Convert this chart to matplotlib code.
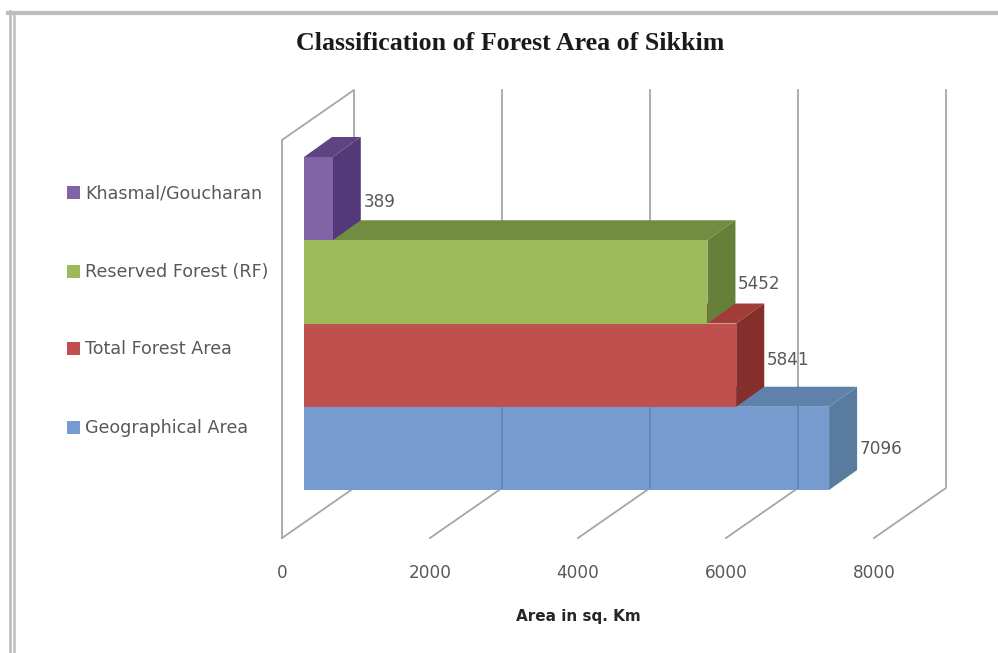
import matplotlib
matplotlib.use("Agg")
import matplotlib.pyplot as plt
from matplotlib.patches import Polygon, Rectangle
from matplotlib.lines import Line2D

categories = ["Geographical Area", "Total Forest Area", "Reserved Forest (RF)", "Khasmal/Goucharan"]
areas = [7096, 5841, 5452, 389]
front_colors = ["#769BCE", "#C0504D", "#9BBB59", "#8064A6"]
top_colors = ["#5F82AB", "#A23C39", "#728C42", "#5E4582"]
side_colors = ["#587B9F", "#852E2C", "#66803A", "#54397A"]
x_ticks = [0, 2000, 4000, 6000, 8000]
chart_title = "Classification of Forest Area of Sikkim"
x_title = "Area in sq. Km"

W, H = 998, 653
fig = plt.figure(figsize=(W / 100, H / 100), dpi=100, facecolor="white")

# Value axis spans 148 px per 2000 units; each category band is 83.25 px tall.
PX_PER_UNIT = 148 / 2000
PX_PER_BAND = 83.25
X0_PX, Y0_PX = 282, 490
ax = fig.add_axes([0, 0, 1, 1])
ax.set_xlim(-X0_PX / PX_PER_UNIT, (W - X0_PX) / PX_PER_UNIT)
ax.set_ylim(-(H - Y0_PX) / PX_PER_BAND, Y0_PX / PX_PER_BAND)
ax.axis("off")


def depth(dx_px, dy_px):
    """Oblique depth offset in data units for a pixel shift."""
    return dx_px / PX_PER_UNIT, dy_px / PX_PER_BAND


FLOOR_Y = -48 / PX_PER_BAND
WALL_TOP_Y = 350 / PX_PER_BAND
BACK = depth(72, 50)
BAR_START = depth(22, 0)[0]
BAR_DEPTH = depth(28, 20)
GRID = "#A6A6A6"
label_lift_px = [-1, 5, -2, -3]

# Side wall, back gridlines and floor lines
ax.plot([0, 0, BACK[0], BACK[0]],
        [FLOOR_Y, WALL_TOP_Y, WALL_TOP_Y + BACK[1], FLOOR_Y + BACK[1]],
        color=GRID, lw=1.3, zorder=1)
ax.plot([0, BACK[0]], [FLOOR_Y, FLOOR_Y + BACK[1]], color=GRID, lw=1.3, zorder=1)
for t in x_ticks[1:]:
    gx = t + BACK[0]
    ax.plot([t, gx, gx], [FLOOR_Y, FLOOR_Y + BACK[1], WALL_TOP_Y + BACK[1]],
            color=GRID, lw=1.3, zorder=1)

# Each upper band is painted over the top face of the band below it
for i in range(len(areas)):
    z = 2 + i
    x0, x1 = BAR_START, BAR_START + areas[i]
    y0, y1 = i, i + 1
    dx, dy = BAR_DEPTH
    ax.add_patch(Polygon([(x0, y1), (x1, y1), (x1 + dx, y1 + dy), (x0 + dx, y1 + dy)],
                         fc=top_colors[i], ec="none", zorder=z))
    ax.add_patch(Polygon([(x1, y0), (x1 + dx, y0 + dy), (x1 + dx, y1 + dy), (x1, y1)],
                         fc=side_colors[i], ec="none", zorder=z))
    ax.add_patch(Rectangle((x0, y0), areas[i], 1, fc=front_colors[i], ec="none", zorder=z))
    ax.text(x1 + dx + depth(2.5, 0)[0], i + 0.5 + depth(0, label_lift_px[i])[1], str(areas[i]),
            ha="left", va="center", fontsize=12.2, color="#595959",
            family="DejaVu Sans", zorder=10)

# Gridlines show faintly through the front bar
for t in x_ticks[1:4]:
    gx = t + BACK[0]
    top = 1 + BAR_DEPTH[1] if gx > BAR_START + areas[1] else 1
    ax.plot([gx, gx], [FLOOR_Y + BACK[1], top],
            color="#5C7FAE", lw=1.2, alpha=0.8, zorder=8)

for t in x_ticks:
    ax.text(t, -83 / PX_PER_BAND, str(t), ha="center", va="center",
            fontsize=12.2, color="#595959", family="DejaVu Sans")

ax.text(4000, -126 / PX_PER_BAND, x_title, ha="center", va="center",
        fontsize=11, fontweight="bold", color="#262626", family="DejaVu Sans")


# Title, legend and frame sit in figure pixels
def fx(p):
    return p / W


def fy(p):
    return 1 - p / H


fig.text(fx(510), fy(44), chart_title, ha="center", va="center",
         fontsize=18.6, fontweight="bold", color="#1A1A1A", family="Liberation Serif")

legend_rows = [428, 349, 272, 193]
for name, color, row in zip(categories, front_colors, legend_rows):
    fig.add_artist(Rectangle((fx(67), fy(row + 6)), 13 / W, 13 / H, fc=color, ec="none",
                             transform=fig.transFigure))
    fig.text(fx(85), fy(row), name, ha="left", va="center", fontsize=12.6,
             color="#595959", family="DejaVu Sans")

for xs, ys, lw in [((fx(9.5), fx(9.5)), (fy(11), 0), 2),
                   ((fx(14), fx(14)), (fy(12), 0), 1.8),
                   ((fx(8), 1), (fy(13), fy(13)), 3)]:
    fig.add_artist(Line2D(xs, ys, color="#BDBDBD", lw=lw, transform=fig.transFigure))

fig.savefig("out.png", dpi=100, facecolor="white")
